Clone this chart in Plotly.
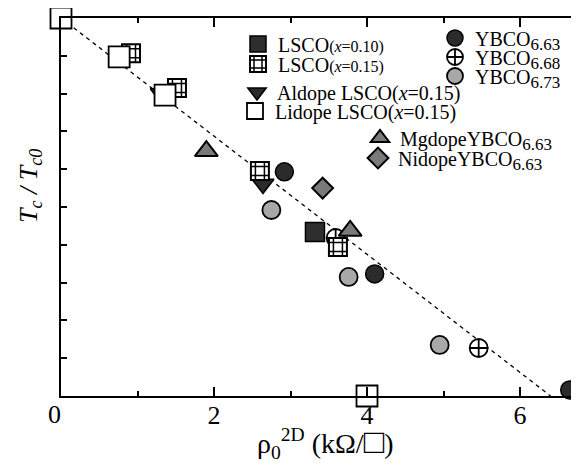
import plotly.graph_objects as go

FONT = "Liberation Serif"

# ---- data (rho0^2D in kOhm/sq, Tc/Tc0) ----
lidope_x = [0.0, 0.76, 1.36, 4.0]
lidope_y = [1.0, 0.897, 0.796, 0.0]
lsco15_x = [0.915, 1.516, 2.60, 3.62]
lsco15_y = [0.907, 0.815, 0.595, 0.394]
lsco10_x = [3.32]
lsco10_y = [0.434]
aldope_x = [1.31, 2.64]
aldope_y = [0.80, 0.561]
y663_x = [2.92, 4.10, 6.65]
y663_y = [0.593, 0.323, 0.016]
y668_x = [3.59, 5.46]
y668_y = [0.418, 0.127]
y673_x = [2.75, 3.76, 4.95]
y673_y = [0.492, 0.315, 0.135]
mg_x = [1.90, 3.78]
mg_y = [0.648, 0.437]
ni_x = [3.42]
ni_y = [0.550]
fit_x = [0.0, 6.4]
fit_y = [1.0, 0.0]

x_ticks = [2, 4, 6]
x_ticktext = ["2", "4", "6"]
x_minor = [1, 3, 5]
y_ticks = [i / 10 for i in range(11)]

fig = go.Figure()

fig.add_trace(go.Scatter(x=fit_x, y=fit_y, mode="lines",
                         line=dict(color="black", width=1.3, dash="4px,4px"),
                         showlegend=False, hoverinfo="skip"))


def pts(x, y, name, symbol, size, fill, legend, lw=1.5, show=True):
    fig.add_trace(go.Scatter(
        x=x, y=y, mode="markers", name=name, legend=legend, showlegend=show,
        cliponaxis=False,
        marker=dict(symbol=symbol, size=size, color=fill,
                    line=dict(color="black", width=lw))))


sub = "<sub><span style='font-size:17px'>{}</span></sub>"

pts(y663_x, y663_y, "YBCO" + sub.format("6.63"), "circle", 18, "#2b2b2b", "legend7")
pts(y668_x, y668_y, "YBCO" + sub.format("6.68"), "circle-cross", 18, "white", "legend8", lw=1.8)
pts(y673_x, y673_y, "YBCO" + sub.format("6.73"), "circle", 18, "#a8a8a8", "legend9", lw=1.8)
pts(aldope_x, aldope_y, "Aldope LSCO(<i>x</i>=0.15)", "triangle-down", 19, "#2b2b2b", "legend3")
pts(lsco10_x, lsco10_y, "LSCO<span style='font-size:16px'>(<i>x</i>=0.10)</span>",
    "square", 19, "#2e2e2e", "legend")
pts(lsco15_x, lsco15_y, "LSCO<span style='font-size:16px'>(<i>x</i>=0.15)</span>",
    "square", 18, "white", "legend2", lw=2)
pts(lsco15_x, lsco15_y, " ", "hash-open", 18, "black", "legend10", lw=1.5)
pts(mg_x, mg_y, "MgdopeYBCO" + sub.format("6.63"), "triangle-up", 20, "#7a7a7a", "legend5", lw=2)
pts(ni_x, ni_y, "NidopeYBCO" + sub.format("6.63"), "diamond", 16, "#7a7a7a", "legend6", lw=2)
pts(lidope_x, lidope_y, "Lidope LSCO(<i>x</i>=0.15)", "square", 21, "white", "legend4", lw=1.8)

# The page body adds an 8px offset; targets below are in screen pixels.
OFF = 8
W, H = 579, 466
SL, SR, ST, SB = 61, 578, 18, 396          # plot area on screen
PL, PR, PT, PB = SL - OFF, SR - OFF, ST - OFF, SB - OFF   # in figure pixels


def px2paper_x(sx):
    return (sx - OFF - PL) / (PR - PL)


def px2paper_y(sy):
    return (PB - (sy - OFF)) / (PB - PT)


leg_pos = {
    "legend": (258, 44), "legend2": (258, 64), "legend10": (258, 64),
    "legend3": (257, 92), "legend4": (255, 111),
    "legend5": (380, 138), "legend6": (378, 158),
    "legend7": (455, 38), "legend8": (455, 57), "legend9": (455, 76),
}
legend_layout = {}
for k, (sx, sy) in leg_pos.items():
    legend_layout[k] = dict(x=px2paper_x(sx - 20), y=px2paper_y(sy),
                            xanchor="left", yanchor="middle",
                            bgcolor="rgba(0,0,0,0)", borderwidth=0,
                            font=dict(family=FONT, size=20, color="black"))

fig.update_layout(
    width=W, height=H,
    margin=dict(l=PL, r=W - PR, t=PT, b=H - PB, autoexpand=False),
    paper_bgcolor="white", plot_bgcolor="white",
    font=dict(family=FONT, color="black"),
    **legend_layout,
)

fig.update_xaxes(range=[0, (PR - PL) / 76.5], tickmode="array", tickvals=x_ticks,
                 ticktext=x_ticktext, ticks="inside", ticklen=9, tickwidth=1.5,
                 tickcolor="black", showline=True, linewidth=2, linecolor="black",
                 mirror="ticks", showgrid=False, zeroline=False,
                 ticklabelstandoff=-5,
                 tickfont=dict(family=FONT, size=26, color="black"),
                 minor=dict(tickvals=x_minor, ticks="inside", ticklen=5,
                            tickwidth=1.5, tickcolor="black", showgrid=False))
fig.update_yaxes(range=[0, 1], tickmode="array", tickvals=y_ticks,
                 ticktext=[""] * len(y_ticks), ticks="inside", ticklen=6,
                 tickwidth=1.5, tickcolor="black", showline=True, linewidth=2,
                 linecolor="black", mirror="ticks", showgrid=False, zeroline=False)

fig.add_annotation(text="0", x=0, y=0, xref="x", yref="y", showarrow=False,
                   xanchor="center", yanchor="middle",
                   xshift=-7, yshift=-18, font=dict(family=FONT, size=26, color="black"))
fig.add_annotation(text="ρ<sub>0</sub><sup>2D</sup> (kΩ/<span style='font-size:34px'>□</span>)",
                   x=px2paper_x(325), y=px2paper_y(443), xref="paper", yref="paper",
                   xanchor="center", yanchor="middle",
                   showarrow=False, font=dict(family=FONT, size=28, color="black"))
fig.add_annotation(text="<i>T<sub>c</sub> / T<sub>c0</sub></i>",
                   x=px2paper_x(30), y=px2paper_y(186), xref="paper", yref="paper",
                   xanchor="center", yanchor="middle",
                   showarrow=False, textangle=-90, font=dict(family=FONT, size=26, color="black"))

fig.write_html("out.html")
